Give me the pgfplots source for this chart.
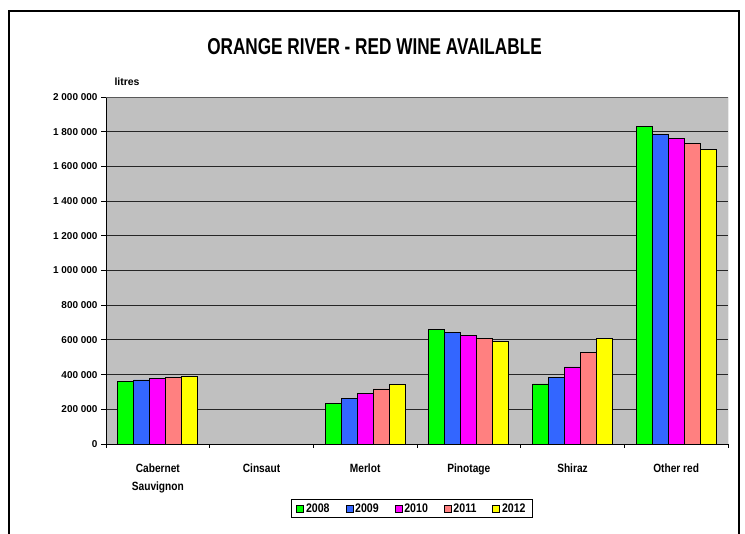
\documentclass[border=0pt]{standalone}
\usepackage{fontspec}
\setmainfont{Liberation Sans}
\newfontfamily\narrowfont{Liberation Sans}[FakeStretch=0.85]
\newfontfamily\titlefont{Liberation Sans}[FakeStretch=0.75]
\usepackage{pgfplots}
\pgfplotsset{compat=1.18}

\definecolor{c2008}{HTML}{00FF00}
\definecolor{c2009}{HTML}{3366FF}
\definecolor{c2010}{HTML}{FF00FF}
\definecolor{c2011}{HTML}{FF8080}
\definecolor{c2012}{HTML}{FFFF00}
\definecolor{plotbg}{HTML}{C0C0C0}

\begin{document}
\begin{tikzpicture}[x=1bp,y=1bp]
\path[use as bounding box] (0,0) rectangle (745,534);
% outer frame
\draw[line width=2.5bp] (9,0) -- (9,523) -- (739,523) -- (739,0);
\node[font=\titlefont\bfseries\fontsize{23}{26}\selectfont] at (374.5,487) {ORANGE RIVER - RED WINE AVAILABLE};
\node[font=\bfseries\fontsize{10.5}{12}\selectfont] at (127,452.5) {litres};

\begin{axis}[
  at={(106bp,90bp)}, anchor=south west,
  width=622bp, height=347bp, scale only axis,
  ybar=0pt, bar width=16bp,
  xmin=-0.5, xmax=5.5,
  ymin=0, ymax=2000000,
  axis lines*=left,
  axis line style={black, line width=0.9bp},
  axis background/.style={fill=plotbg},
  xtick={0,...,5},
  xticklabels={{Cabernet\\Sauvignon},Cinsaut,Merlot,Pinotage,Shiraz,Other red},
  major x tick style={draw=none},
  minor xtick={-0.5,0.5,...,5.5},
  minor tick length=4bp,
  x tick label style={font=\narrowfont\bfseries\fontsize{12}{18}\selectfont, align=center, anchor=north, yshift=-11bp},
  ytick={0,200000,...,2000000},
  tick align=outside,
  major tick length=5bp,
  tick style={black, line width=0.8bp},
  ymajorgrids,
  grid style={black!85, line width=0.8bp},
  scaled y ticks=false,
  /pgf/number format/.cd, fixed, precision=0, 1000 sep={\ }, assume math mode=true,
  /pgfplots/.cd,
  y tick label style={font=\bfseries\fontsize{10}{12}\selectfont},
  legend columns=5,
  legend style={at={(0.492,-0.186)}, anchor=center, draw=black, line width=0.8bp,
    font=\narrowfont\bfseries\fontsize{12.5}{14}\selectfont,
    /tikz/every even column/.append style={column sep=14bp},
    inner xsep=5bp, inner ysep=2bp},
  legend image code/.code={\draw[#1, draw=black, line width=0.6bp] (0bp,-3.5bp) rectangle (7bp,3.5bp);},
  every axis plot/.append style={draw=black, line width=0.8bp},
]
\addplot[fill=c2008] coordinates {(0,359000) (2,235000) (3,661000) (4,346000) (5,1831000)};
\addplot[fill=c2009] coordinates {(0,369000) (2,263000) (3,644000) (4,382000) (5,1782000)};
\addplot[fill=c2010] coordinates {(0,376000) (2,290000) (3,626000) (4,444000) (5,1759000)};
\addplot[fill=c2011] coordinates {(0,386000) (2,317000) (3,609000) (4,528000) (5,1733000)};
\addplot[fill=c2012] coordinates {(0,390000) (2,342000) (3,592000) (4,609000) (5,1698000)};
\legend{2008,2009,2010,2011,2012}
\draw[gray!70!black, line width=0.8bp] (rel axis cs:0,1) -- (rel axis cs:1,1) -- (rel axis cs:1,0);
\end{axis}
\end{tikzpicture}
\end{document}
